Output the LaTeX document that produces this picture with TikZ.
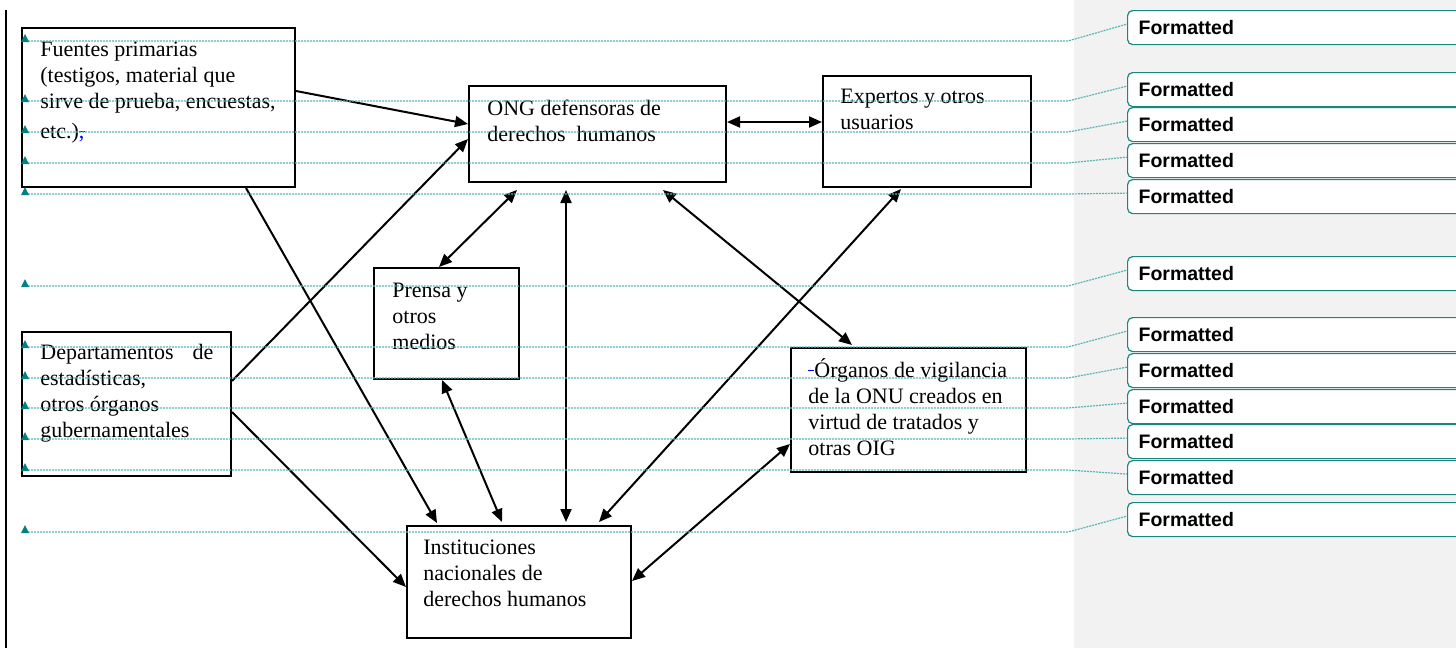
\documentclass[tikz,border=0pt]{standalone}
\usepackage{fontspec}
\setmainfont{Liberation Serif}
\newfontfamily\commentfont{Liberation Sans}
\usetikzlibrary{arrows.meta}

\definecolor{markteal}{RGB}{0,128,128}
\definecolor{lineteal}{RGB}{90,180,180}
\definecolor{boxteal}{RGB}{25,135,128}
\definecolor{panegray}{RGB}{242,242,242}

\newcommand{\tstrut}{\rule{0pt}{11pt}}

\begin{document}
\begin{tikzpicture}[x=0.5pt, y=-0.5pt,
    >={Triangle[length=6.5pt,width=5.5pt]},
    box/.style 2 args={draw, line width=1pt, inner sep=0pt, minimum width={#1*0.5pt}, minimum height={#2*0.5pt}},
    txt/.style={anchor=north west, inner sep=0pt, align=left, font=\fontsize{11}{13}\selectfont},
    link/.style={line width=1pt, ->},
    both/.style={line width=1pt, <->},
    trace/.style={lineteal, line width=0.6pt, dash pattern=on 1pt off 0.5pt},
    fmt/.style={draw=boxteal, fill=white, rounded corners=2.5pt, line width=0.6pt, anchor=north west,
      minimum height=17pt, text width=160pt, inner xsep=5.5pt, inner ysep=0pt, align=left,
      font=\commentfont\bfseries\fontsize{9.75}{11}\selectfont}]
  \useasboundingbox (0,0) rectangle (1456,648);
  \clip (0,0) rectangle (1456,648);

  % Page
  \fill[panegray] (1074,0) rectangle (1456,648);
  \draw[line width=1pt] (6,10) -- (6,648);

  % Boxes
  \node[box={273}{159}] (fuentes) at (158.5,107.5) {};
  \node[box={257}{96}] (ong) at (597.5,134) {};
  \node[box={208}{111}] (expertos) at (927,131.5) {};
  \node[box={145}{111}] (prensa) at (446.5,323.5) {};
  \node[box={209}{144}] (deptos) at (126.5,404) {};
  \node[box={235}{124}] (organos) at (908.5,410) {};
  \node[box={224}{112}] (inst) at (519,582) {};

  % Texts
  \node[txt] (fuentes-txt) at (40,34) {\tstrut Fuentes primarias\\(testigos, material que\\sirve de prueba, encuestas,\\[2pt]etc.)\textcolor{blue}{\rlap{\rule[3pt]{3pt}{0.5pt}},}};
  \node[txt] (ong-txt) at (487,93) {\tstrut ONG defensoras de\\derechos\ \ humanos};
  \node[txt] (expertos-txt) at (840,81) {\tstrut Expertos y otros\\usuarios};
  \node[txt] (prensa-txt) at (392,275) {\tstrut Prensa y\\otros\\medios};
  \node[txt] (deptos-txt) at (40,337) {\tstrut\makebox[86.5pt]{Departamentos\hfill de}\\estadísticas,\\otros órganos\\gubernamentales};
  \node[txt] (organos-txt) at (808,355) {\tstrut\textcolor{blue}{\rule[3pt]{3pt}{0.5pt}}Órganos de vigilancia\\de la ONU creados en\\virtud de tratados y\\otras OIG};
  \node[txt] (inst-txt) at (423,532) {\tstrut Instituciones\\nacionales de\\derechos humanos};

  % Links
  \draw[link] ([yshift=-32pt]fuentes.north east) -- ([yshift=-19.5pt]ong.north west);
  \draw[link] ([yshift=-25pt]deptos.north east) -- ([yshift=-27pt]ong.north west);
  \draw[both] ([yshift=-18.5pt]ong.north east) -- ([yshift=-23.5pt]expertos.north west);
  \draw[link] ([xshift=112.5pt]fuentes.south west) -- ([xshift=15.5pt,yshift=1pt]inst.north west);
  \draw[link] ([yshift=-40.5pt]deptos.north east) -- ([yshift=-31pt]inst.north west);
  \draw[both] ([xshift=33pt]prensa.north west) -- ([xshift=24.5pt,yshift=-3.5pt]ong.south west);
  \draw[both] ([xshift=34.5pt]prensa.south west) -- ([xshift=48pt,yshift=1.5pt]inst.north west);
  \draw[both] ([xshift=49pt,yshift=-3.5pt]ong.south west) -- ([xshift=80pt,yshift=1.5pt]inst.north west);
  \draw[both] ([xshift=97.5pt,yshift=-3.5pt]ong.south west) -- ([xshift=31pt,yshift=1pt]organos.north west);
  \draw[both] ([xshift=39.5pt,yshift=-0.5pt]expertos.south west) -- ([xshift=96.5pt,yshift=1.5pt]inst.north west);
  \draw[both] ([yshift=-48.5pt]organos.north west) -- ([yshift=-28pt]inst.north east);

  % Comments
  \coordinate (kink) at (1068,0);
  \foreach \i/\ym/\yb in {1/41/10, 2/101/72, 3/132/107, 4/163/143, 5/194/179, 6/286/256,
      7/347/317, 8/378/353, 9/408/389, 10/439/424, 11/470/460, 12/532/502} {
    \node[fmt] (f\i) at (1127,\yb) {Formatted};
    \coordinate (m\i) at (22,\ym);
    \draw[trace] (m\i) -- (m\i -| kink) -- ([yshift=1.75pt]f\i.west);
    \fill[markteal] (m\i) ++(-1,1) -- ++(8,0) -- ++(-4,-8) -- cycle;
  }
\end{tikzpicture}
\end{document}
